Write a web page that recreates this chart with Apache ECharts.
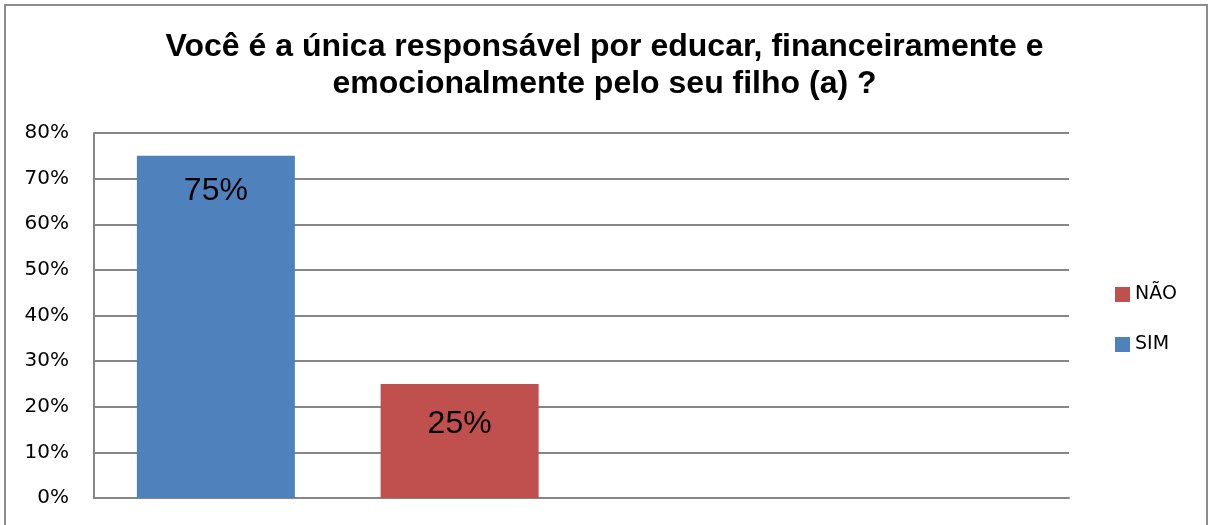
<!DOCTYPE html>
<html>
<head>
<meta charset="utf-8">
<script src="https://cdn.jsdelivr.net/npm/echarts@6/dist/echarts.min.js"></script>
<style>html,body{margin:0;padding:0;background:#fff;}#c{width:1209px;height:525px;}</style>
</head>
<body>
<div id="c"></div>
<script>
var titleText = 'Você é a única responsável por educar, financeiramente e\nemocionalmente pelo seu filho (a) ?';
var categories = ['SIM', 'NÃO', '', ''];
var simValues = [75, '-', '-', '-'];
var naoValues = ['-', 25, '-', '-'];
var yTicks = { min: 0, max: 80, interval: 10 };

var chart = echarts.init(document.getElementById('c'));
function labelCfg(d) {
  return {
    show: true, position: 'insideTop', distance: d,
    fontFamily: 'Liberation Sans, Arial, sans-serif', fontSize: 32, color: '#000',
    formatter: '{c}%'
  };
}
chart.setOption({
  animation: false,
  backgroundColor: '#fff',
  title: {
    text: titleText, left: 'center', top: 24,
    textStyle: { fontFamily: 'Liberation Sans, Arial, sans-serif', fontWeight: 'bold', fontSize: 32, lineHeight: 37, color: '#000' }
  },
  graphic: [{
    type: 'rect', shape: { x: 5, y: 5, width: 1202, height: 540 },
    style: { fill: 'none', stroke: '#8c8c8c', lineWidth: 2 }, silent: true
  }],
  legend: {
    orient: 'vertical', left: 1110, top: 280,
    itemWidth: 15, itemHeight: 15, itemGap: 31,
    data: ['NÃO', 'SIM'],
    textStyle: { fontFamily: 'DejaVu Sans, sans-serif', fontSize: 19, color: '#000' },
    icon: 'rect'
  },
  grid: { left: 94, right: 140, top: 133, bottom: 27, containLabel: false },
  xAxis: {
    type: 'category', data: categories,
    axisTick: { show: false }, axisLabel: { show: false },
    axisLine: { lineStyle: { color: '#868686', width: 2 } }
  },
  yAxis: {
    type: 'value', min: yTicks.min, max: yTicks.max, interval: yTicks.interval,
    axisLine: { show: true, lineStyle: { color: '#868686', width: 2 } },
    axisTick: { show: false },
    axisLabel: { formatter: '{value}%', fontFamily: 'DejaVu Sans, sans-serif', fontSize: 20, color: '#000', margin: 25 },
    splitLine: { lineStyle: { color: '#868686', width: 2 } }
  },
  series: [
    { name: 'SIM', type: 'bar', data: simValues, barWidth: 158, barGap: '-100%',
      itemStyle: { color: '#4f81bd' }, label: labelCfg(19) },
    { name: 'NÃO', type: 'bar', data: naoValues, barWidth: 158, barGap: '-100%',
      itemStyle: { color: '#c0504d' }, label: labelCfg(24) }
  ]
});
</script>
</body>
</html>
